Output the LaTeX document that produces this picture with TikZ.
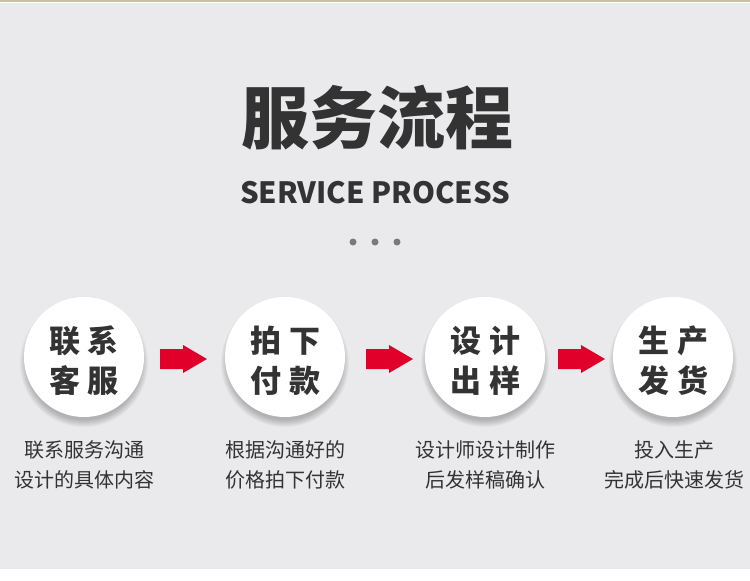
\documentclass[tikz,border=0pt]{standalone}
\usepackage{fontspec}
\newfontfamily\cjk{Noto Sans CJK SC}
\definecolor{bgc}{HTML}{EAE9EC}
\definecolor{txt}{HTML}{333333}
\definecolor{arrowred}{HTML}{E1002A}
\definecolor{dotgray}{HTML}{7A7A7A}
\definecolor{beige}{HTML}{C9BDA3}
\tikzset{
  stepcircle/.style={circle, fill=white, minimum size=120pt, inner sep=0pt},
  circtext/.style={font=\cjk\bfseries\fontsize{31}{31}\selectfont, text=txt, inner sep=0pt},
  caption/.style={font=\cjk\fontsize{20}{20}\selectfont, text=txt, inner sep=0pt},
  flowarrow/.style={fill=arrowred},
}
\begin{document}
\begin{tikzpicture}[x=1pt,y=-1pt]
\useasboundingbox (0,0) rectangle (750,581);
\fill[white] (0,0) rectangle (750,581);
\fill[bgc] (0,3) rectangle (750,569);
\fill[beige] (0,0) rectangle (750,2);
% title
\node[font=\cjk\bfseries\fontsize{68}{68}\selectfont, text=txt, inner sep=0pt] (title) at (377,118) {服务流程};
\node[font=\cjk\bfseries\fontsize{29.3}{29.3}\selectfont, text=txt, inner sep=0pt, anchor=base] (sub) at (375,203) {SERVICE PROCESS};
\fill[dotgray] (353,242) circle (3.5);
\fill[dotgray] (375,242) circle (3.5);
\fill[dotgray] (397,242) circle (3.5);
% shadows and circles
\foreach \cx/\n in {84/1,285/2,485/3,673/4}{
  \foreach \r in {57,58,...,64}{
    \fill[black, opacity=0.032] (\cx,363) circle (\r);
  }
  \node[stepcircle] (c\n) at (\cx,357) {};
}
% circle texts
\node[circtext] (t1a) at (84,341) {联\hspace{8pt}系};
\node[circtext] (t1b) at (84,381) {客\hspace{8pt}服};
\node[circtext] (t2a) at (285,341) {拍\hspace{8pt}下};
\node[circtext] (t2b) at (285,381) {付\hspace{8pt}款};
\node[circtext] (t3a) at (485,341) {设\hspace{8pt}计};
\node[circtext] (t3b) at (485,381) {出\hspace{8pt}样};
\node[circtext] (t4a) at (673,341) {生\hspace{8pt}产};
\node[circtext] (t4b) at (673,381) {发\hspace{8pt}货};
% arrows
\foreach \x in {160,366,558}{
  \fill[flowarrow] (\x,349) -- ++(23,0) -- ++(0,-4) -- ++(24,14) -- ++(-24,14) -- ++(0,-4) -- ++(-23,0) -- cycle;
}
% captions
\node[caption] (p1a) at (84,450) {联系服务沟通};
\node[caption] (p1b) at (84,480) {设计的具体内容};
\node[caption] (p2a) at (285,450) {根据沟通好的};
\node[caption] (p2b) at (285,480) {价格拍下付款};
\node[caption] (p3a) at (485,450) {设计师设计制作};
\node[caption] (p3b) at (485,480) {后发样稿确认};
\node[caption] (p4a) at (674,450) {投入生产};
\node[caption] (p4b) at (674,480) {完成后快速发货};
\end{tikzpicture}
\end{document}
